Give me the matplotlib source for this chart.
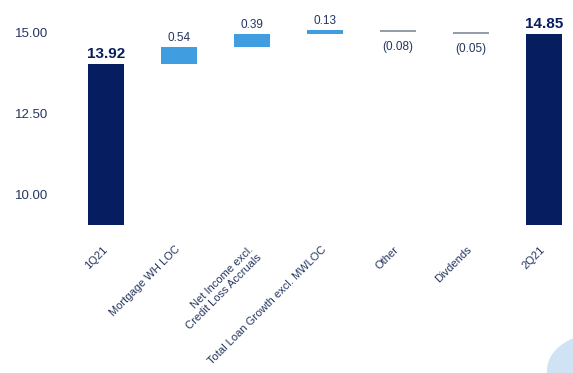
"""Waterfall chart: tangible book value per share bridge 1Q21 -> 2Q21."""

import matplotlib

matplotlib.use("Agg")
import matplotlib.pyplot as plt
from matplotlib.patches import Circle
from matplotlib.transforms import ScaledTranslation

plt.rcParams["font.family"] = ["Liberation Sans", "DejaVu Sans"]

categories = [
    "1Q21",
    "Mortgage WH LOC",
    "Net Income excl.\nCredit Loss Accruals",
    "Total Loan Growth excl. MWLOC",
    "Other",
    "Divdends",
    "2Q21",
]
start_value = 13.92
changes = [0.54, 0.39, 0.13, -0.08, -0.05]
end_value = 14.85
y_ticks = [10.00, 12.50, 15.00]

NAVY = "#061d5f"
BLUE = "#3f9de0"
GREY = "#959da8"
TEXT = "#25355f"

fig = plt.figure(figsize=(5.73, 3.73), dpi=100)
ax = fig.add_axes([60 / 573, 148 / 373, 513 / 573, 225 / 373])

width = 0.49
# totals
ax.bar(0, start_value, width, color=NAVY)
ax.bar(len(categories) - 1, end_value, width, color=NAVY)
ax.text(0, start_value + 0.1, f"{start_value:.2f}", ha="center", va="bottom",
        fontsize=11, fontweight="bold", color=NAVY)
ax.text(len(categories) - 1, end_value + 0.1, f"{end_value:.2f}", ha="center",
        va="bottom", fontsize=11, fontweight="bold", color=NAVY)

# floating steps
level = start_value
for i, change in enumerate(changes, start=1):
    color = BLUE if change > 0 else GREY
    ax.bar(i, change, width, bottom=level, color=color)
    if change > 0:
        ax.text(i, level + change + 0.08, f"{change:.2f}", ha="center",
                va="bottom", fontsize=8.5, color=TEXT)
    else:
        ax.text(i, level + change - 0.28, f"({abs(change):.2f})", ha="center",
                va="top", fontsize=8.5, color=TEXT)
    level += change

ax.set_xlim(-0.63, 6.40)
ax.set_ylim(8.966, 15.895)
ax.set_yticks(y_ticks, [f"{v:.2f}" for v in y_ticks])
ax.set_xticks(range(len(categories)))
ax.set_xticklabels(categories, rotation=45, ha="right", rotation_mode="anchor",
                   fontsize=8, color=TEXT)
ax.tick_params(axis="y", length=0, pad=8.5, labelsize=9.5, labelcolor=TEXT)
ax.tick_params(axis="x", length=0, pad=6)
y_shift = ScaledTranslation(0, -3 / 100, fig.dpi_scale_trans)
for label in ax.get_yticklabels():
    label.set_transform(label.get_transform() + y_shift)
x_shift = ScaledTranslation(-4 / 100, -11 / 100, fig.dpi_scale_trans)
for label in ax.get_xticklabels():
    label.set_transform(label.get_transform() + x_shift)
for spine in ax.spines.values():
    spine.set_visible(False)

# decorative corner circle
fig.patches.append(Circle((605 / 573, 1 - 370 / 373), 0.1, transform=fig.transFigure,
                          color="#cfe3f4", zorder=0))

fig.savefig("out.png", dpi=100)
plt.close(fig)
